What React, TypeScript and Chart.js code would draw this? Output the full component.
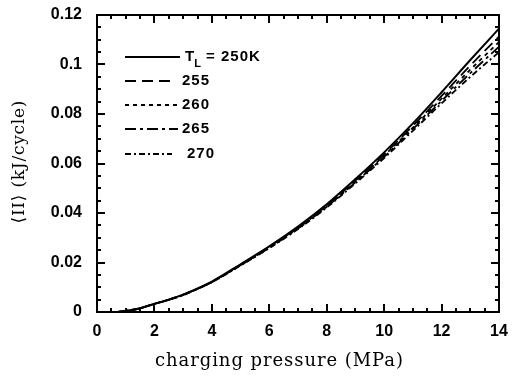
import React, { useEffect, useRef } from "react";
import { Chart, registerables } from "chart.js";

Chart.register(...registerables);

// ---- data ----
const pressure = [0.7, 1, 1.5, 2, 2.5, 3, 3.5, 4, 5, 6, 7, 8, 9, 10, 11, 12, 13, 14];
const pi250 = [0, 0.0004, 0.0015, 0.0033, 0.005, 0.007, 0.0095, 0.0123, 0.0193, 0.0265, 0.0345, 0.0435, 0.0537, 0.0645, 0.0762, 0.0888, 0.1018, 0.1145];
const pi255 = [0, 0.0004, 0.0015, 0.0033, 0.005, 0.007, 0.0094, 0.0122, 0.0191, 0.0263, 0.0342, 0.0431, 0.0531, 0.0637, 0.0752, 0.0873, 0.0996, 0.1113];
const pi260 = [0, 0.0004, 0.0015, 0.0033, 0.005, 0.0069, 0.0094, 0.0121, 0.019, 0.0261, 0.034, 0.0428, 0.0527, 0.0632, 0.0745, 0.0862, 0.0979, 0.1091];
const pi265 = [0, 0.0004, 0.0015, 0.0033, 0.0049, 0.0069, 0.0093, 0.0121, 0.0189, 0.0259, 0.0337, 0.0425, 0.0524, 0.0627, 0.0739, 0.0853, 0.0965, 0.1072];
const pi270 = [0, 0.0004, 0.0015, 0.0033, 0.0049, 0.0068, 0.0093, 0.012, 0.0188, 0.0258, 0.0335, 0.0422, 0.052, 0.0622, 0.0732, 0.0843, 0.095, 0.105];

const seriesLabels = ["250K", "255", "260", "265", "270"];
const seriesValues = [pi250, pi255, pi260, pi265, pi270];
const seriesDash: number[][] = [[], [11, 6], [4, 4], [11, 4, 3, 4], [6, 3, 2, 3]];

const xTicks = [0, 2, 4, 6, 8, 10, 12, 14];
const xTickLabels = ["0", "2", "4", "6", "8", "10", "12", "14"];
const yTicks = [0, 0.02, 0.04, 0.06, 0.08, 0.1, 0.12];
const yTickLabels = ["0", "0.02", "0.04", "0.06", "0.08", "0.1", "0.12"];

const xTitle = "charging pressure (MPa)";
const yTitle = "\u27E8II\u27E9 (kJ/cycle)";

const tickFont = { family: '"Liberation Sans", Arial, sans-serif', size: 16, weight: "bold" as const };

function drawSpaced(ctx: CanvasRenderingContext2D, text: string, cx: number, cy: number, target: number) {
  (ctx as any).letterSpacing = "0px";
  const w = ctx.measureText(text).width;
  const ls = (target - w) / (text.length - 1);
  (ctx as any).letterSpacing = ls.toFixed(2) + "px";
  ctx.textAlign = "left";
  ctx.textBaseline = "middle";
  ctx.fillText(text, cx - target / 2, cy);
  (ctx as any).letterSpacing = "0px";
}

const decorPlugin = {
  id: "decor",
  afterDraw(chart: any) {
    const ctx: CanvasRenderingContext2D = chart.ctx;
    const a = chart.chartArea;
    const left = Math.round(a.left), right = Math.round(a.right), top = Math.round(a.top), bottom = Math.round(a.bottom);
    const xs = chart.scales.x;
    const ys = chart.scales.y;
    ctx.save();
    ctx.setLineDash([]);
    ctx.globalAlpha = 1;
    ctx.globalCompositeOperation = "source-over";
    ctx.fillStyle = "#000";
    ctx.strokeStyle = "#000";

    // legend
    const rows = [57, 81, 105, 129, 154];
    const lineEnds = [180, 171, 178, 178, 172];
    const textX = [185, 182, 182, 182, 187];
    ctx.textBaseline = "middle";
    ctx.textAlign = "left";
    for (let i = 0; i < rows.length; i++) {
      ctx.lineWidth = i === 0 ? 2 : 1.8;
      ctx.setLineDash(seriesDash[i]);
      ctx.beginPath();
      ctx.moveTo(125, rows[i]);
      ctx.lineTo(lineEnds[i], rows[i]);
      ctx.stroke();
      ctx.setLineDash([]);
      ctx.font = 'bold 15px "Liberation Sans", Arial, sans-serif';
      (ctx as any).letterSpacing = "1px";
      if (i === 0) {
        ctx.fillText("T", textX[i], rows[i]);
        const tw = ctx.measureText("T").width;
        ctx.font = 'bold 11px "Liberation Sans", Arial, sans-serif';
        ctx.fillText("L", textX[i] + tw - 1, rows[i] + 7);
        const lw = ctx.measureText("L").width;
        ctx.font = 'bold 15px "Liberation Sans", Arial, sans-serif';
        ctx.fillText(" = " + seriesLabels[i], textX[i] + tw + lw - 2, rows[i]);
      } else {
        ctx.fillText(seriesLabels[i], textX[i], rows[i]);
      }
      (ctx as any).letterSpacing = "0px";
    }
    // axis titles
    ctx.font = '18px "DejaVu Serif", "Liberation Serif", serif';
    drawSpaced(ctx, xTitle, 279, 361, 248);
    ctx.font = '17px "DejaVu Serif", "Liberation Serif", serif';
    ctx.save();
    ctx.translate(20, 162);
    ctx.rotate(-Math.PI / 2);
    drawSpaced(ctx, yTitle, 0, 0, 123);
    ctx.restore();

    // frame (filled rectangles)
    ctx.fillStyle = "#000";
    ctx.fillRect(left - 1, top - 1, right - left + 2, 2);
    ctx.fillRect(left - 1, bottom - 1, right - left + 2, 2);
    ctx.fillRect(left - 1, top - 1, 2, bottom - top + 2);
    ctx.fillRect(right - 1, top - 1, 2, bottom - top + 2);
    // inward ticks
    for (let i = 0; i <= 28; i++) {
      const px = Math.round(xs.getPixelForValue(i * 0.5));
      const len = i % 4 === 0 ? 8 : 4;
      ctx.fillRect(px - 1, bottom - len, 2, len);
      ctx.fillRect(px - 1, top, 2, len);
    }
    for (let i = 0; i <= 24; i++) {
      const py = Math.round(ys.getPixelForValue(i * 0.005));
      const len = i % 4 === 0 ? 8 : 4;
      ctx.fillRect(left, py - 1, len, 2);
      ctx.fillRect(right - len, py - 1, len, 2);
    }
    ctx.restore();
  },
};

export default function App() {
  const ref = useRef<HTMLCanvasElement | null>(null);
  useEffect(() => {
    if (!ref.current) return;
    const chart = new Chart(ref.current, {
      type: "line",
      data: {
        datasets: seriesValues.map((vals, i) => ({
          label: seriesLabels[i],
          data: pressure.map((p, j) => ({ x: p, y: vals[j] })),
          borderColor: "#000",
          backgroundColor: "#000",
          borderWidth: i === 0 ? 2 : 1.8,
          borderDash: seriesDash[i],
          pointRadius: 0,
          cubicInterpolationMode: "monotone" as const,
          fill: false,
        })),
      },
      options: {
        animation: false,
        responsive: false,
        devicePixelRatio: 1,
        layout: { padding: { left: 0, right: 21, top: 15, bottom: 0 } },
        plugins: { legend: { display: false }, tooltip: { enabled: false } },
        scales: {
          x: {
            type: "linear",
            min: 0,
            max: 14,
            afterBuildTicks: (s: any) => {
              s.ticks = xTicks.map((v) => ({ value: v }));
            },
            afterFit: (s: any) => {
              s.height = 64;
              s.paddingLeft = 0;
              s.paddingRight = 0;
            },
            ticks: {
              callback: (_v: any, i: number) => xTickLabels[i],
              padding: 10,
              color: "#000",
              font: tickFont,
              maxRotation: 0,
              autoSkip: false,
            },
            grid: { display: false, drawTicks: false },
            border: { display: false },
          },
          y: {
            type: "linear",
            min: 0,
            max: 0.12,
            afterBuildTicks: (s: any) => {
              s.ticks = yTicks.map((v) => ({ value: v }));
            },
            afterFit: (s: any) => {
              s.width = 97;
              s.paddingTop = 0;
              s.paddingBottom = 0;
            },
            ticks: {
              callback: (_v: any, i: number) => yTickLabels[i],
              padding: 15,
              color: "#000",
              font: tickFont,
              autoSkip: false,
            },
            grid: { display: false, drawTicks: false },
            border: { display: false },
          },
        },
      },
      plugins: [decorPlugin],
    });
    return () => chart.destroy();
  }, []);
  return (
    <div style={{ position: "fixed", left: 0, top: 0, width: 520, height: 376, background: "#fff" }}>
      <canvas ref={ref} width={520} height={376} />
    </div>
  );
}
